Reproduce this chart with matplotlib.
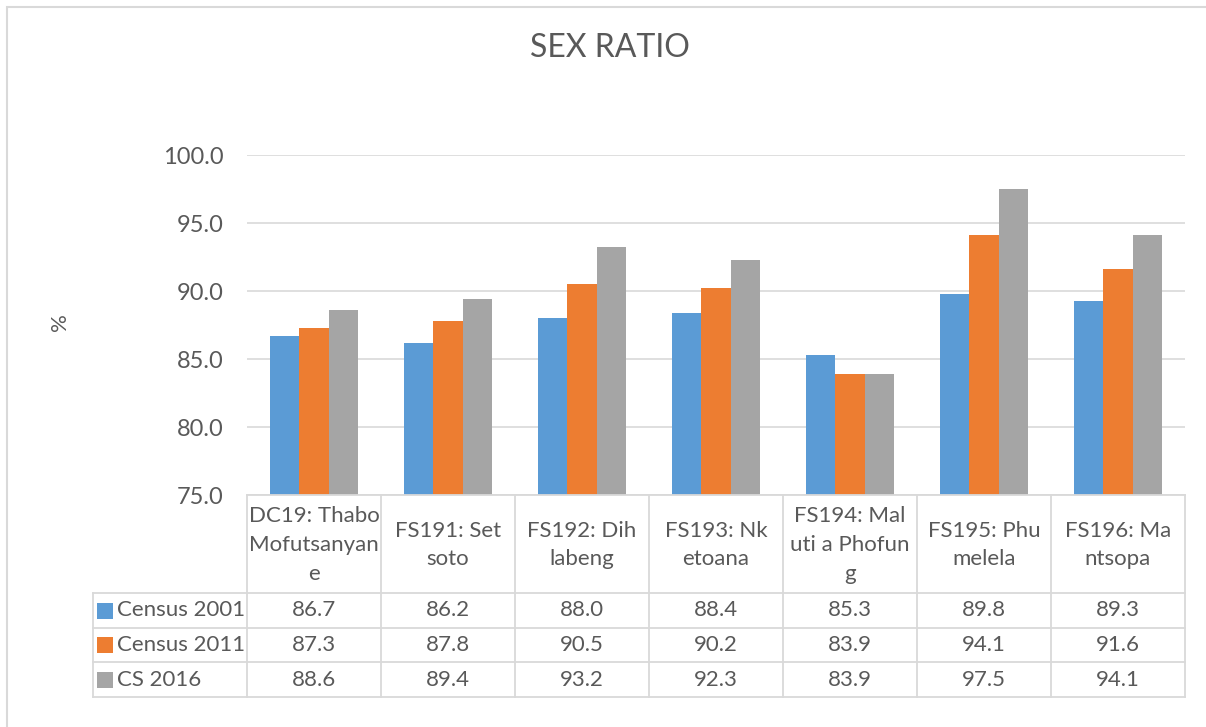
import numpy as np
import matplotlib
matplotlib.use("Agg")
import matplotlib.pyplot as plt
from matplotlib.patches import Rectangle
from matplotlib.lines import Line2D

categories = ["DC19: Thabo\nMofutsanyan\ne", "FS191: Set\nsoto", "FS192: Dih\nlabeng",
              "FS193: Nk\netoana", "FS194: Mal\nuti a Phofun\ng", "FS195: Phu\nmelela",
              "FS196: Ma\nntsopa"]
series_names = ["Census 2001", "Census 2011", "CS 2016"]
census_2001 = [86.7, 86.2, 88.0, 88.4, 85.3, 89.8, 89.3]
census_2011 = [87.3, 87.8, 90.5, 90.2, 83.9, 94.1, 91.6]
cs_2016 = [88.6, 89.4, 93.2, 92.3, 83.9, 97.5, 94.1]
y_ticks = [75.0, 80.0, 85.0, 90.0, 95.0, 100.0]

colors = ["#5B9BD5", "#ED7D31", "#A5A5A5"]
text_col = "#595959"
grid_col = "#D9D9D9"

plt.rcParams['font.family'] = ['Lato', 'DejaVu Sans']

W, H = 1206, 727
fig = plt.figure(figsize=(W / 100, H / 100), dpi=100)

def fx(px):
    return px / W

def fy(py):
    return 1 - py / H

# outer chart frame
fig.patches.append(Rectangle((fx(7), fy(745)), fx(1230) - fx(7), fy(7) - fy(745),
                             transform=fig.transFigure, fill=False, ec=grid_col, lw=1.5))

left, right, top, bottom = 247, 1185, 155, 495
ax = fig.add_axes([fx(left), fy(bottom), fx(right) - fx(left), fy(top) - fy(bottom)])

x = np.arange(len(categories))
w = 0.218
all_series = [census_2001, census_2011, cs_2016]
for i, vals in enumerate(all_series):
    ax.bar(x + (i - 1) * w, np.array(vals) - 75, bottom=75, width=w, color=colors[i], zorder=3)

ax.set_xlim(-0.5, len(categories) - 0.5)
ax.set_ylim(75, 100)
ax.set_yticks(y_ticks)
ax.set_yticklabels([f"{t:.1f}" for t in y_ticks], fontsize=17, color=text_col)
ax.tick_params(axis='y', length=0, pad=17)
ax.set_xticks([])
ax.yaxis.grid(True, color=grid_col, lw=1.2, zorder=0)
for s in ax.spines.values():
    s.set_visible(False)

fig.text(fx(60), fy(322), "%", rotation=90, fontsize=16, color=text_col, ha='center', va='center')
fig.text(fx(610), fy(48), "SEX RATIO", fontsize=23, color=text_col, ha='center', va='center')

# data table under the axis
row_lines = [495, 593, 628, 662, 697]
tab_left = 93
col_w = (right - left) / len(categories)
lw = 1.3

def hline(x0, x1, y):
    fig.lines.append(Line2D([fx(x0), fx(x1)], [fy(y), fy(y)], transform=fig.transFigure,
                            color=grid_col, lw=lw))

def vline(x0, y0, y1):
    fig.lines.append(Line2D([fx(x0), fx(x0)], [fy(y0), fy(y1)], transform=fig.transFigure,
                            color=grid_col, lw=lw))

hline(left, right, row_lines[0])
for y in row_lines[1:]:
    hline(tab_left, right, y)
vline(tab_left, row_lines[1], row_lines[-1])
for j in range(len(categories) + 1):
    vline(left + j * col_w, row_lines[0], row_lines[-1])

for j, lab in enumerate(categories):
    fig.text(fx(left + (j + 0.5) * col_w), fy((row_lines[0] + row_lines[1]) / 2 + 1), lab,
             ha='center', va='center', fontsize=16, color=text_col, linespacing=1.55)

for i, (name, vals) in enumerate(zip(series_names, all_series)):
    yc = (row_lines[i + 1] + row_lines[i + 2]) / 2
    fig.patches.append(Rectangle((fx(97), fy(yc + 8)), fx(16), fy(yc - 8) - fy(yc + 8),
                                 transform=fig.transFigure, color=colors[i], lw=0))
    fig.text(fx(117), fy(yc), name, ha='left', va='center', fontsize=16, color=text_col)
    for j, v in enumerate(vals):
        fig.text(fx(left + (j + 0.5) * col_w), fy(yc), f"{v:.1f}", ha='center', va='center',
                 fontsize=16, color=text_col)

fig.savefig("out.png", dpi=100)
